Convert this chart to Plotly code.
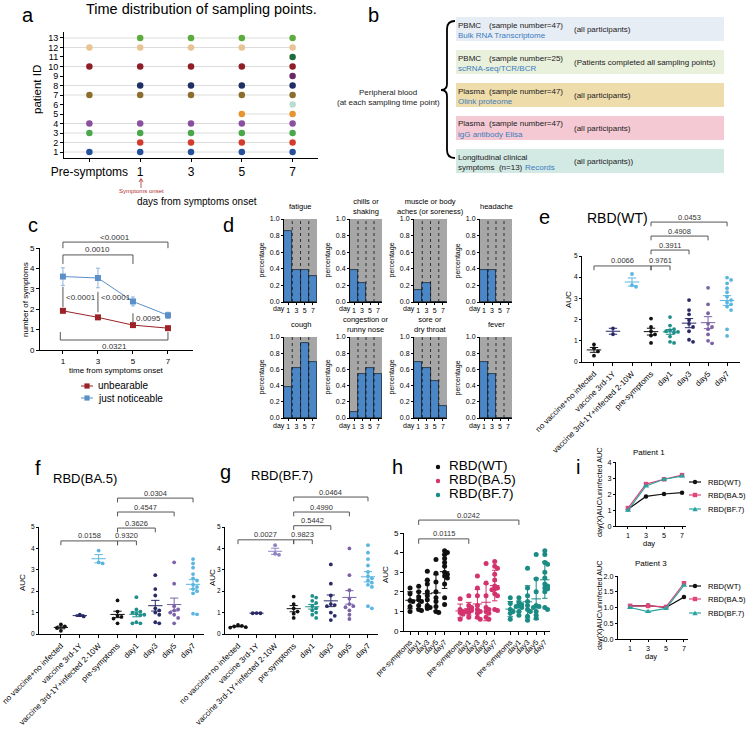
import numpy as np
import plotly.graph_objects as go

W, H = 750, 729
FONT = 'Liberation Sans, Arial, Helvetica, sans-serif'

# ---------------- data ----------------
# a: sampling time points of each patient (index into sample_days)
sample_days = ['Pre-symptoms', '1', '3', '5', '7']
patient_ids = list(range(1, 14))
patient_days = [
    [0, 1, 2, 3, 4],
    [1, 2, 3, 4],
    [0, 1, 2, 3, 4],
    [0, 1, 2, 3, 4],
    [3, 4],
    [4],
    [0, 1, 2, 3, 4],
    [1, 2, 3, 4],
    [4],
    [0, 1, 2, 3, 4],
    [4],
    [0, 1, 2, 3, 4],
    [1, 2, 3, 4],
]
patient_colors = ['#27509b', '#d33b2c', '#4aa84a', '#8a4f9e', '#e8952f', '#b9ddd0', '#8c6d2c',
                  '#1f2f66', '#6b2768', '#8e1d26', '#1e6b3c', '#e8c394', '#5bab3f']

# b: sample overview
b_titles = ['PBMC', 'PBMC', 'Plasma', 'Plasma', 'Longitudinal clinical']
b_counts = ['(sample number=47)', '(sample number=25)', '(sample number=47)',
            '(sample number=47)', 'symptoms  (n=13)']
b_assays = ['Bulk RNA Transcriptome', 'scRNA-seq/TCR/BCR', 'Olink proteome',
            'igG antibody Elisa', 'Records']
b_scope = ['(all participants)', '(Patients completed all sampling points)',
           '(all participants)', '(all participants)', '(all participants))']
b_fill = ['#e7edf5', '#e9f0dc', '#efdcab', '#f4c9d3', '#d2e9e4']

# c: number of symptoms
c_days = [1, 3, 5, 7]
unbearable = [1.92, 1.6, 1.22, 1.07]
unbearable_se = [0.06, 0.07, 0.07, 0.05]
noticeable = [3.6, 3.53, 2.38, 1.7]
noticeable_se = [0.43, 0.48, 0.22, 0.15]

# d: percentage of patients with each symptom on day 1, 3, 5, 7
symptoms = ['fatigue', 'chills or<br>shaking', 'muscle or body<br>aches (or soreness)', 'headache',
            'cough', 'congestion or<br>runny nose', 'sore or<br>dry throat', 'fever']
symptom_pct = [
    [0.85, 0.38, 0.38, 0.31],
    [0.38, 0.23, 0.0, 0.0],
    [0.15, 0.23, 0.0, 0.0],
    [0.38, 0.38, 0.0, 0.0],
    [0.38, 0.62, 0.92, 0.69],
    [0.08, 0.54, 0.62, 0.54],
    [0.69, 0.62, 0.46, 0.15],
    [0.69, 0.54, 0.0, 0.0],
]

# e/f/g: AUC per group
auc_groups = ['no vaccine+no infected', 'vaccine 3rd-1Y', 'vaccine 3rd-1Y+infected 2-10W',
              'pre-symptoms', 'day1', 'day3', 'day5', 'day7']
wt_auc = [
    [0.83, 0.65, 0.5, 0.3],
    [1.59, 1.31],
    [4.15, 3.62, 3.55],
    [2.05, 1.65, 1.45, 1.3, 1.25, 0.9],
    [2.12, 1.72, 1.55, 1.5, 1.45, 1.42, 1.38, 1.2, 0.95, 0.9],
    [2.92, 2.45, 2.25, 1.98, 1.8, 1.65, 1.45, 1.05, 0.95],
    [3.5, 2.72, 2.3, 1.8, 1.65, 1.55, 1.3, 1.0, 0.88],
    [3.98, 3.87, 3.71, 3.48, 3.29, 3.08, 2.92, 2.81, 2.72, 2.61, 2.45, 1.54, 1.23],
]
ba5_auc = [
    [0.45, 0.35, 0.28, 0.15],
    [0.9, 0.82],
    [3.9, 3.35, 3.3],
    [1.57, 1.05, 0.85, 0.8, 0.72, 0.5],
    [1.72, 1.15, 1.05, 1.0, 0.95, 0.9, 0.88, 0.55, 0.5, 0.5],
    [2.75, 2.1, 1.8, 1.2, 1.1, 1.0, 0.9, 0.55, 0.5],
    [3.35, 2.35, 1.3, 1.15, 1.1, 1.0, 0.9, 0.75, 0.5],
    [3.5, 3.3, 3.1, 2.8, 2.6, 2.5, 2.3, 2.2, 2.1, 2.0, 1.9, 0.95, 0.92],
]
bf7_auc = [
    [0.42, 0.38, 0.35, 0.32, 0.3],
    [0.98, 0.97, 0.97],
    [4.15, 3.75, 3.7],
    [1.75, 1.4, 1.2, 1.05, 0.95, 0.75],
    [1.78, 1.7, 1.55, 1.45, 1.3, 1.2, 1.1, 1.0, 0.9, 0.75],
    [3.25, 2.35, 1.8, 1.4, 1.35, 1.3, 1.0, 0.85, 0.65],
    [4.0, 2.75, 2.05, 1.65, 1.4, 1.3, 1.25, 1.1, 0.9, 0.7],
    [4.15, 3.8, 3.5, 3.2, 2.9, 2.7, 2.6, 2.5, 2.4, 2.3, 2.2, 1.3, 1.2],
]
auc_pairs = [(0, 3), (3, 4), (3, 5), (3, 6), (3, 7)]
wt_p = ['0.0066', '0.9761', '0.3911', '0.4908', '0.0453']
ba5_p = ['0.0158', '0.9320', '0.3626', '0.4547', '0.0304']
bf7_p = ['0.0027', '0.9823', '0.5442', '0.4990', '0.0464']

# h: AUC over days per variant
h_days = ['pre-symptoms', 'day1', 'day3', 'day5', 'day7']
h_wt = [
    [2.2, 1.9, 1.55, 1.5, 1.25, 1.0],
    [2.28, 2.0, 1.75, 1.6, 1.5, 1.3, 1.1, 1.05],
    [3.05, 2.6, 2.4, 2.0, 1.8, 1.6, 1.3, 1.2, 1.15],
    [3.65, 2.95, 2.5, 2.0, 1.7, 1.5, 1.25, 1.0, 0.95],
    [4.1, 4.0, 3.9, 3.7, 3.5, 3.3, 3.0, 2.9, 2.8, 2.7, 2.4, 1.7, 1.35],
]
h_ba5 = [
    [1.65, 1.1, 1.0, 0.95, 0.85, 0.6],
    [1.8, 1.3, 1.2, 1.1, 1.05, 1.0, 0.95, 0.7],
    [2.8, 2.2, 1.8, 1.3, 1.1, 1.0, 0.9, 0.7, 0.6],
    [3.45, 2.45, 1.8, 1.2, 1.1, 1.0, 0.9, 0.7, 0.6],
    [3.55, 3.3, 3.2, 2.9, 2.6, 2.3, 2.2, 2.15, 2.1, 1.9, 1.8, 1.1, 1.05],
]
h_bf7 = [
    [1.7, 1.4, 1.1, 1.0, 0.9, 0.6],
    [1.7, 1.45, 1.35, 1.3, 1.25, 1.2, 1.0, 0.8],
    [3.2, 2.2, 1.8, 1.5, 1.3, 1.1, 1.0, 0.75, 0.55],
    [3.9, 2.65, 2.0, 1.3, 1.25, 1.2, 1.0, 0.8, 0.65],
    [4.1, 3.9, 3.5, 3.4, 3.0, 2.7, 2.4, 2.3, 2.2, 2.15, 2.0, 1.2, 1.1],
]
h_pairs = [(1, 6), (1, 11)]
h_p = ['0.0115', '0.0242']

# i: day(X) AUC / uninfected AUC
i_days = [1, 3, 5, 7]
p1_wt = [1.05, 1.85, 2.0, 2.08]
p1_ba5 = [1.12, 2.62, 2.92, 3.18]
p1_bf7 = [0.98, 2.5, 2.92, 3.12]
p3_wt = [1.05, 1.06, 1.0, 1.33]
p3_ba5 = [1.05, 1.05, 1.02, 1.77]
p3_bf7 = [1.0, 0.87, 0.97, 1.7]
variants = ['RBD(WT)', 'RBD(BA.5)', 'RBD(BF.7)']

# ---------------- helpers ----------------
fig = go.Figure()
shapes, annos, axes_layout = [], [], {}
n_axes = [0]

BASE_AX = dict(showline=True, linecolor='black', linewidth=1, ticks='outside', ticklen=3,
               tickwidth=1, tickcolor='black', showgrid=False, zeroline=False, fixedrange=True,
               automargin=False)


def tf(size):
    return dict(size=size, color='black', family=FONT)


def add_axes(box, xr, yr, xkw=None, ykw=None):
    n_axes[0] += 1
    s = '' if n_axes[0] == 1 else str(n_axes[0])
    x0, y0, x1, y1 = box
    xa = dict(BASE_AX, domain=[x0 / W, x1 / W], range=xr, anchor='y' + s)
    ya = dict(BASE_AX, domain=[1 - y1 / H, 1 - y0 / H], range=yr, anchor='x' + s)
    xa.update(xkw or {})
    ya.update(ykw or {})
    axes_layout['xaxis' + s] = xa
    axes_layout['yaxis' + s] = ya

    def to_px(x, y):
        return (x0 + (x - xr[0]) / (xr[1] - xr[0]) * (x1 - x0),
                y1 - (y - yr[0]) / (yr[1] - yr[0]) * (y1 - y0))
    return 'x' + s, 'y' + s, to_px


def text(x, y, s, size=8, color='black', xanchor='center', yanchor='middle', angle=0):
    annos.append(dict(x=x / W, y=1 - y / H, xref='paper', yref='paper', text=s, showarrow=False,
                      xanchor=xanchor, yanchor=yanchor, textangle=angle, borderpad=0,
                      font=dict(size=size, color=color, family=FONT)))


def seg(x0, y0, x1, y1, color='black', width=1, dash='solid'):
    shapes.append(dict(type='line', xref='paper', yref='paper', x0=x0 / W, y0=1 - y0 / H,
                       x1=x1 / W, y1=1 - y1 / H, line=dict(color=color, width=width, dash=dash)))


def P(x, y):
    return f'{x / W:.5f},{1 - y / H:.5f}'


def marker_shape(x, y, symbol, color, r=2.3):
    if symbol == 'circle':
        shapes.append(dict(type='circle', xref='paper', yref='paper', x0=(x - r) / W, x1=(x + r) / W,
                           y0=1 - (y + r) / H, y1=1 - (y - r) / H, fillcolor=color, line=dict(width=0)))
    elif symbol == 'square':
        shapes.append(dict(type='rect', xref='paper', yref='paper', x0=(x - r) / W, x1=(x + r) / W,
                           y0=1 - (y + r) / H, y1=1 - (y - r) / H, fillcolor=color, line=dict(width=0)))
    else:
        shapes.append(dict(type='path', xref='paper', yref='paper',
                           path=f'M{P(x - r - 0.4, y + r)} L{P(x + r + 0.4, y + r)} L{P(x, y - r - 0.4)} Z',
                           fillcolor=color, line=dict(width=0)))


def bracket(to_px, xa, xb, y, label, drop=0.2, size=7.5):
    ax_, ay_ = to_px(xa, y)
    bx_, _ = to_px(xb, y)
    _, dy_ = to_px(xa, y - drop)
    seg(ax_, dy_, ax_, ay_, '#555', 1)
    seg(ax_, ay_, bx_, ay_, '#555', 1)
    seg(bx_, ay_, bx_, dy_, '#555', 1)
    text((ax_ + bx_) / 2, ay_ - 5, label, size=size, color='#333')


def swarm(vals, d, dy):
    vals = np.asarray(vals, dtype=float)
    offs = np.zeros(len(vals))
    placed = []
    for i in np.argsort(-vals):
        cand = 0.0
        for k in range(30):
            cand = 0.0 if k == 0 else ((k + 1) // 2) * d * (1 if k % 2 else -1)
            if all(abs(vals[i] - pv) >= dy or abs(cand - po) >= d * 0.95 for pv, po in placed):
                break
        offs[i] = cand
        placed.append((vals[i], cand))
    return offs


def mean_err_lines(c, m, e, wm, wc):
    xs = [c - wm, c + wm, None, c - wc, c + wc, None, c - wc, c + wc, None, c, c]
    ys = [m, m, None, m + e, m + e, None, m - e, m - e, None, m - e, m + e]
    return xs, ys


def letter(x, y, s):
    text(x, y, s, size=20)


# ---------------- a ----------------
xa_, ya_, _ = add_axes((64, 32, 318, 158), [-0.5, 4.5], [0.37, 13.63],
                       xkw=dict(tickvals=list(range(5)), ticktext=sample_days, tickfont=tf(12)),
                       ykw=dict(tickvals=patient_ids, tickfont=tf(9)))
for pid, days, col in zip(patient_ids, patient_days, patient_colors):
    if len(days) > 1:
        start = -0.5 if len(days) >= 4 else days[0]
        fig.add_trace(go.Scatter(x=[start, days[-1]], y=[pid, pid], mode='lines',
                                 line=dict(color='#dcdcdc', width=1), xaxis=xa_, yaxis=ya_))
    fig.add_trace(go.Scatter(x=days, y=[pid] * len(days), mode='markers',
                             marker=dict(size=6.5, color=col), xaxis=xa_, yaxis=ya_))
letter(28, 15, 'a')
text(202, 9, 'Time distribution of sampling points.', size=14.5)
text(37, 90, 'patient ID', size=11.5, angle=-90)
seg(141, 188, 141, 179, '#b03030', 0.8)
shapes.append(dict(type='path', xref='paper', yref='paper',
                   path=f'M{P(139, 182)} L{P(141, 178.5)} L{P(143, 182)}',
                   line=dict(color='#b03030', width=0.8)))
text(141, 191, 'Symptoms onset', size=6, color='#b03030')
text(197, 202, 'days from symptoms onset', size=10)

# ---------------- b ----------------
letter(373, 15, 'b')
for k in range(5):
    top = [17, 50, 83, 116, 149][k]
    shapes.append(dict(type='rect', xref='paper', yref='paper', x0=456 / W, x1=724 / W,
                       y0=1 - (top + 24) / H, y1=1 - top / H, fillcolor=b_fill[k], line=dict(width=0),
                       layer='below'))
    if k < 4:
        text(457, top + 8, b_titles[k], size=8, color='#222', xanchor='left')
        text(488, top + 8, b_counts[k], size=8, color='#222', xanchor='left')
        text(457, top + 18.5, b_assays[k], size=8, color='#3b7cbf', xanchor='left')
    else:
        text(457, top + 8, b_titles[k], size=8, color='#222', xanchor='left')
        text(457, top + 18.5, b_counts[k], size=8, color='#222', xanchor='left')
        text(524, top + 18.5, b_assays[k], size=8, color='#3b7cbf', xanchor='left')
    text(573, top + 12.5, b_scope[k], size=8, color='#222', xanchor='left')
shapes.append(dict(type='path', xref='paper', yref='paper',
                   path=(f'M{P(455, 21)} Q{P(447, 21)} {P(447, 29)} L{P(447, 84)} '
                         f'Q{P(447, 90)} {P(441, 90)} Q{P(447, 90)} {P(447, 96)} '
                         f'L{P(447, 150)} Q{P(447, 158)} {P(455, 158)}'),
                   line=dict(color='black', width=1.8)))
text(388, 93, 'Peripheral blood', size=8, color='#222')
text(388, 103, '(at each sampling time point)', size=8, color='#222')

# ---------------- c ----------------
UNB, NOT = '#9b2226', '#5b8fc8'
xc, yc, c_px = add_axes((40, 248, 193, 350), [-0.31, 8.43], [0, 5],
                        xkw=dict(tickvals=c_days, tickfont=tf(8)),
                        ykw=dict(tickvals=[0, 1, 2, 3, 4, 5], tickfont=tf(8)))
fig.add_trace(go.Scatter(x=c_days, y=noticeable, mode='lines+markers',
                         line=dict(color=NOT, width=1), marker=dict(symbol='square', size=6, color=NOT),
                         error_y=dict(type='data', array=noticeable_se, color='#8fb4dc', thickness=1, width=2),
                         xaxis=xc, yaxis=yc))
fig.add_trace(go.Scatter(x=c_days, y=unbearable, mode='lines+markers',
                         line=dict(color=UNB, width=1), marker=dict(symbol='square', size=6, color=UNB),
                         error_y=dict(type='data', array=unbearable_se, color=UNB, thickness=1, width=2),
                         xaxis=xc, yaxis=yc))
letter(33, 225, 'c')
bracket(c_px, 1, 7, 5.29, '<0.0001', drop=0.3, size=8)
bracket(c_px, 1, 5, 4.66, '0.0010', drop=0.44, size=8)
for xv, y0v, y1v, lab, ly in [(1, 2.1, 3.1, '<0.0001', 2.55), (3, 1.85, 2.85, '<0.0001', 2.55),
                              (5, 1.37, 1.8, '0.0095', 1.52)]:
    p0, p1 = c_px(xv, y0v), c_px(xv, y1v)
    seg(p0[0], p0[1], p1[0], p1[1], '#555', 1)
    lx, lyp = c_px(xv + 0.1, ly)
    text(lx, lyp, lab, size=8, color='#333', xanchor='left')
b0, b1 = c_px(0.85, 0.49), c_px(7, 0.49)
_, bt = c_px(0, 0.88)
seg(b0[0], bt, b0[0], b0[1], '#555', 1)
seg(b0[0], b0[1], b1[0], b1[1], '#555', 1)
seg(b1[0], b1[1], b1[0], bt, '#555', 1)
text((b0[0] + b1[0]) / 2, 346, '0.0321', size=8, color='#333')
text(25, 300, 'number of symptoms', size=8, angle=-90)
text(116, 370, 'time from symptoms onset', size=8)
for yy, col, lab in [(386, UNB, 'unbearable'), (398, NOT, 'just noticeable')]:
    seg(81, yy, 93, yy, col, 1)
    marker_shape(87, yy, 'square', col, r=2.6)
    text(97, yy, lab, size=10, xanchor='left')

# ---------------- d ----------------
letter(228, 225, 'd')
d_cols = [(284, 317), (350, 382), (414, 447), (480, 512)]
d_rows = [(219, 302), (337, 418)]
for k, (name, pct) in enumerate(zip(symptoms, symptom_pct)):
    r, ci = divmod(k, 4)
    x0, x1 = d_cols[ci]
    y0, y1 = d_rows[r]
    xd, yd, _ = add_axes((x0, y0, x1, y1), [-0.5, 3.5], [0, 1],
                         xkw=dict(tickvals=[0, 1, 2, 3], ticktext=['1', '3', '5', '7'], tickfont=tf(7),
                                  ticklen=2),
                         ykw=dict(tickvals=[0, 0.2, 0.4, 0.6, 0.8, 1.0], tickformat='.1f', tickfont=tf(7),
                                  ticklen=2))
    fig.add_trace(go.Bar(x=[0, 1, 2, 3], y=[1, 1, 1, 1], width=1,
                         marker=dict(color='#a6a6a6', line=dict(width=0)), xaxis=xd, yaxis=yd))
    fig.add_trace(go.Bar(x=[0, 1, 2, 3], y=pct, width=1,
                         marker=dict(color='#4b87c7', line=dict(color='#1d2733', width=0.8)),
                         xaxis=xd, yaxis=yd))
    for xv in (0.5, 1.5, 2.5):
        shapes.append(dict(type='line', xref=xd, yref=yd, x0=xv, x1=xv, y0=0, y1=1,
                           line=dict(color='#111', width=0.8, dash='dot')))
    text((x0 + x1) / 2, y0 - 12, name, size=7.5)
    text(x0 - 23, (y0 + y1) / 2, 'percentage', size=7, angle=-90)
    text(x0 + 2, y1 + 7.5, 'day', size=7, xanchor='right')

# ---------------- e / f / g ----------------
BLACK, NAVY, TEAL, PURPLE, LBLUE, LAV = '#111111', '#2a2a66', '#1f8f8a', '#7c63a8', '#5ab6e0', '#8f80c4'


def dot_panel(box, xr, vals, colors, pvals, heights):
    xn, yn, to_px = add_axes(box, xr, [0, 5],
                             xkw=dict(tickvals=list(range(len(auc_groups))), ticktext=auc_groups,
                                      tickangle=-45, tickfont=tf(8), ticklen=3),
                             ykw=dict(tickvals=[0, 1, 2, 3, 4, 5], tickfont=tf(6.5), ticklen=2))
    for i, (v, col) in enumerate(zip(vals, colors)):
        v = np.asarray(v, dtype=float)
        off = swarm(v, 0.21, 0.17)
        fig.add_trace(go.Scatter(x=i + off, y=v, mode='markers', marker=dict(size=3.8, color=col),
                                 xaxis=xn, yaxis=yn))
        m, e = v.mean(), v.std(ddof=1) / np.sqrt(len(v))
        xs, ys = mean_err_lines(i, m, e, 0.38, 0.22)
        fig.add_trace(go.Scatter(x=xs, y=ys, mode='lines', line=dict(color=col, width=1),
                                 xaxis=xn, yaxis=yn))
    for (a, b), p, hgt in zip(auc_pairs, pvals, heights):
        bracket(to_px, a, b, hgt, p)
    return to_px


dot_panel((582, 256, 740, 362), [-0.63, 7.68], wt_auc,
          [BLACK, NAVY, LBLUE, BLACK, TEAL, NAVY, PURPLE, LBLUE], wt_p, [4.53, 4.53, 5.28, 5.94, 6.6])
letter(544, 217, 'e')
text(617, 218, 'RBD(WT)', size=14)
text(568, 300, 'AUC', size=8, angle=-90)

dot_panel((39, 527, 204, 634), [-1.16, 7.58], ba5_auc,
          [BLACK, NAVY, LBLUE, BLACK, TEAL, NAVY, PURPLE, LBLUE], ba5_p, [4.35, 4.35, 4.95, 5.7, 6.35])
letter(38, 468, 'f')
text(85, 478, 'RBD(BA.5)', size=13)
text(22, 583, 'AUC', size=8, angle=-90)

dot_panel((225, 527, 378, 634), [-0.7, 7.54], bf7_auc,
          [BLACK, NAVY, LAV, BLACK, TEAL, NAVY, PURPLE, LBLUE], bf7_p, [4.4, 4.4, 5.06, 5.7, 6.4])
letter(225, 472, 'g')
text(282, 476, 'RBD(BF.7)', size=13)
text(212, 578, 'AUC', size=8, angle=-90)

# ---------------- h ----------------
H_COLS = ['#111111', '#d3336e', '#1a8c84']
h_pos = [g * 5.8 + i for g in range(3) for i in range(5)]
xh, yh, h_px = add_axes((404, 533, 550, 631), [-0.7, 16.2], [0, 5],
                        xkw=dict(tickvals=h_pos, ticktext=h_days * 3, tickangle=-45, tickfont=tf(7.5),
                                 ticklen=3),
                        ykw=dict(tickvals=[0, 1, 2, 3, 4, 5], tickfont=tf(8), ticklen=3))
for g, (series, col) in enumerate(zip([h_wt, h_ba5, h_bf7], H_COLS)):
    for i, v in enumerate(series):
        v = np.asarray(v, dtype=float)
        c = h_pos[g * 5 + i]
        off = swarm(v, 0.32, 0.13)
        fig.add_trace(go.Scatter(x=c + off, y=v, mode='markers', marker=dict(size=5, color=col),
                                 xaxis=xh, yaxis=yh))
        xs, ys = mean_err_lines(c, v.mean(), v.std(ddof=1), 0.55, 0.32)
        fig.add_trace(go.Scatter(x=xs, y=ys, mode='lines', line=dict(color=col, width=1),
                                 xaxis=xh, yaxis=yh))
for (a, b), p, hgt in zip(h_pairs, h_p, [4.7, 5.66]):
    bracket(h_px, h_pos[a], h_pos[b], hgt, p, drop=0.25)
letter(398, 467, 'h')
text(385, 575, 'AUC', size=8, angle=-90)
for yy, col, lab in zip([465, 479, 493], H_COLS, variants):
    marker_shape(438, yy + 2, 'circle', col, r=2.2)
    text(448, yy, lab, size=13.5, xanchor='left')

# ---------------- i ----------------
I_COLS = ['#111111', '#e0457b', '#2ba3a0']
I_SYM = ['circle', 'square', 'triangle-up']
letter(578, 467, 'i')
for box, xr, yr, ticks, fmt, series, title, title_y, ytitle_y, leg_y in [
    ((616, 462, 686, 526), [-0.33, 7.44], [0, 4], [0, 1, 2, 3, 4], None,
     [p1_wt, p1_ba5, p1_bf7], 'Patient 1', 452, 492, [482, 495, 509]),
    ((618, 576, 688, 639), [-0.35, 7.45], [0, 2], [0, 0.5, 1.0, 1.5, 2.0], '.1f',
     [p3_wt, p3_ba5, p3_bf7], 'Patient 3', 563, 605, [586, 599, 613]),
]:
    ykw = dict(tickvals=ticks, tickfont=tf(7.2), ticklen=2)
    if fmt:
        ykw['tickformat'] = fmt
    xi, yi, _ = add_axes(box, xr, yr, xkw=dict(tickvals=i_days, tickfont=tf(7.2), ticklen=2), ykw=ykw)
    for vals, col, sym in zip(series, I_COLS, I_SYM):
        fig.add_trace(go.Scatter(x=i_days, y=vals, mode='lines+markers', line=dict(color=col, width=1.2),
                                 marker=dict(symbol=sym, size=4.5 if sym != 'triangle-up' else 5.5, color=col),
                                 xaxis=xi, yaxis=yi))
    text((box[0] + box[2]) / 2 - 2, title_y, title, size=8)
    text((box[0] + box[2]) / 2 - 2, box[3] + 17, 'day', size=7.5)
    text(599, ytitle_y, 'day(X)AUC/uninfected AUC', size=7.3, angle=-90)
    for yy, col, sym, lab in zip(leg_y, I_COLS, ['circle', 'square', 'triangle'], variants):
        seg(689, yy, 701, yy, col, 1.2)
        marker_shape(695, yy, sym, col, r=2.2)
        text(707, yy, lab, size=7.6, xanchor='left')

fig.update_layout(
    width=W, height=H, margin=dict(l=0, r=0, t=0, b=0, autoexpand=False),
    paper_bgcolor='white', plot_bgcolor='white',
    showlegend=False, barmode='overlay', bargap=0,
    font=dict(family=FONT, color='black'),
    shapes=shapes, annotations=annos,
    **axes_layout,
)
# the page body has a default 8px margin; drop it so the figure sits at the window corner
fig.write_html('out.html', config={'displayModeBar': False},
               post_script="document.body.style.margin='0';document.body.style.overflow='hidden';")
